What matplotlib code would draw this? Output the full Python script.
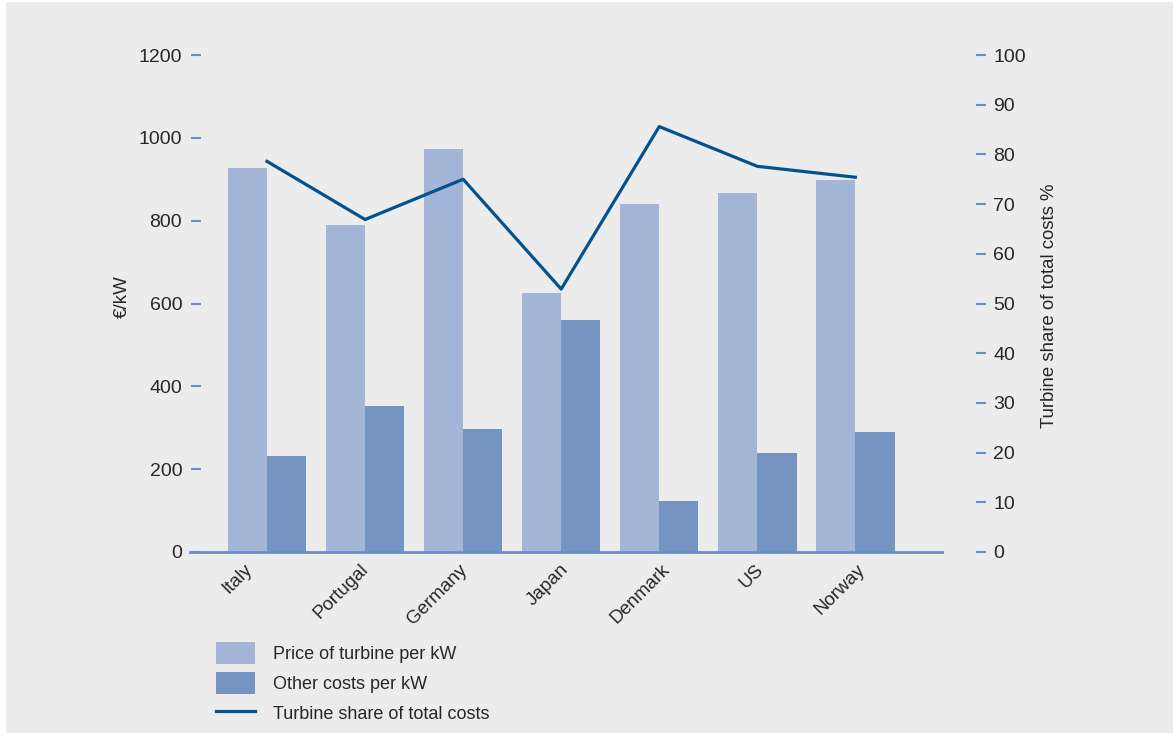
import matplotlib

matplotlib.use("Agg")
import matplotlib.pyplot as plt
import matplotlib.transforms as mtransforms
from matplotlib.patches import Rectangle
import numpy as np

countries = ["Italy", "Portugal", "Germany", "Japan", "Denmark", "US", "Norway"]
turbine_price = [927, 790, 973, 625, 840, 867, 898]
other_costs = [232, 352, 297, 560, 123, 239, 290]
turbine_share = [78.6, 66.9, 75.0, 52.9, 85.6, 77.6, 75.4]

LIGHT = "#a4b6d8"
DARK = "#7594c2"
LINE = "#02528f"
TICK = "#6a8fc8"
TEXT = "#2a2627"
BG = "#ebeceb"

# horizontal nudges (px) of the rotated country labels, as in the source
label_nudge = [-23, -5, -5, -1, 2, -2, 1]

plt.rcParams["font.family"] = ["Liberation Sans", "DejaVu Sans"]
plt.rcParams["font.size"] = 13

fig = plt.figure(figsize=(11.73, 7.33), dpi=100, facecolor="white")
fig.patches.append(Rectangle((6 / 1173, 0), 1 - 6 / 1173, 1 - 2 / 733,
                             transform=fig.transFigure, facecolor=BG,
                             edgecolor="none", zorder=-10))

ax = fig.add_axes([201 / 1173, 1 - 552 / 733, 775 / 1173, 497 / 733])
ax.set_facecolor("none")
x = np.arange(len(countries))
w = 0.4
ax.bar(x - w / 2, turbine_price, w, color=LIGHT, label="Price of turbine per kW")
ax.bar(x + w / 2, other_costs, w, color=DARK, label="Other costs per kW")
ax.set_xlim(-0.673, 7.23)
ax.set_ylim(0, 1200)
ax.set_yticks(range(0, 1201, 200))
ax.axhline(0, xmin=-0.014, xmax=0.956, color=TICK, lw=2, clip_on=False, zorder=3)
for s in ax.spines.values():
    s.set_visible(False)

# country labels as rotated texts under the baseline
ax.set_xticks(x)
ax.set_xticklabels([])
ax.tick_params(axis="x", length=0)
for xi, name, dx in zip(x, countries, label_nudge):
    tr = ax.get_xaxis_transform() + mtransforms.ScaledTranslation(
        dx / 100, -9 / 100, fig.dpi_scale_trans)
    ax.text(xi, 0, name, transform=tr, rotation=45, ha="right", va="top",
            rotation_mode="anchor", color=TEXT, fontsize=13.5)

ax.tick_params(axis="y", direction="out", length=7.5, width=1.5, color=TICK,
               pad=6, labelcolor=TEXT, labelsize=14)
ax.set_ylabel("€/kW", color=TEXT, fontsize=13.5)
ax.yaxis.set_label_coords((131 - 201) / 775, 0.514)

ax2 = ax.twinx()
ax2.plot(x, turbine_share, color=LINE, lw=2.3, label="Turbine share of total costs")
ax2.set_ylim(0, 100)
ax2.set_yticks(range(0, 101, 10))
for s in ax2.spines.values():
    s.set_visible(False)
ax2.tick_params(axis="y", direction="out", length=7.5, width=1.5, color=TICK,
                pad=5, labelcolor=TEXT, labelsize=14)
ax2.set_ylabel("Turbine share of total costs %", color=TEXT, fontsize=13.4)
ax2.yaxis.set_label_coords((1041 - 201) / 775, 0.496)

h1, l1 = ax.get_legend_handles_labels()
h2, l2 = ax2.get_legend_handles_labels()
leg = fig.legend(h1 + h2, l1 + l2, loc="upper left",
                 bbox_to_anchor=(216 / 1173, 1 - 642 / 733),
                 frameon=False, borderpad=0, borderaxespad=0,
                 handlelength=2.15, handleheight=1.5, labelspacing=0.45,
                 handletextpad=1.0)
for t in leg.get_texts():
    t.set_color(TEXT)

fig.savefig("out.png", dpi=100, facecolor=fig.get_facecolor())
